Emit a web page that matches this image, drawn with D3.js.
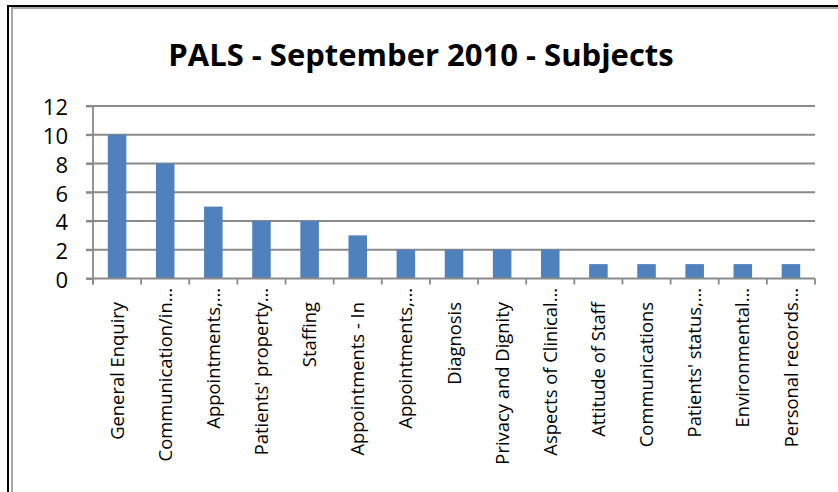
<!DOCTYPE html>
<html lang="en">
<head>
    <meta charset="UTF-8">
    <title>PALS - September 2010 - Subjects</title>
    <style>
        body {
            margin: 0;
            background: #fff;
        }

        svg {
            display: block;
            font-family: "Open Sans", sans-serif;
        }

        .grid line {
            stroke: #8a8a8a;
            stroke-width: 1.8px;
        }

        .axis path,
        .axis line {
            stroke: #8a8a8a;
            stroke-width: 1.8px;
            fill: none;
        }

        .bar {
            fill: #4f81bd;
        }
    </style>
</head>
<body>
    <div id="chart"></div>
    <script src="https://d3js.org/d3.v7.min.js"></script>
    <script>
        const categories = [
            "General Enquiry",
            "Communication/in…",
            "Appointments,…",
            "Patients' property…",
            "Staffing",
            "Appointments - In",
            "Appointments,…",
            "Diagnosis",
            "Privacy and Dignity",
            "Aspects of Clinical…",
            "Attitude of Staff",
            "Communications",
            "Patients' status,…",
            "Environmental…",
            "Personal records…"
        ];
        const counts = [10, 8, 5, 4, 4, 3, 2, 2, 2, 2, 1, 1, 1, 1, 1];
        const yTicks = [0, 2, 4, 6, 8, 10, 12];
        const title = "PALS - September 2010 - Subjects";

        const width = 838, height = 492;
        const plot = { left: 93, right: 815, top: 106, bottom: 278.5 };

        const svg = d3.select("#chart").append("svg")
            .attr("width", width)
            .attr("height", height);

        svg.append("rect")
            .attr("width", width)
            .attr("height", height)
            .attr("fill", "#fff");

        // frame: black outer edge and gray inner edge (top and left only, rest is cropped)
        svg.append("path")
            .attr("d", "M12," + height + "V8H" + width)
            .attr("fill", "none")
            .attr("stroke", "#a6a6a6")
            .attr("stroke-width", 2);
        svg.append("path")
            .attr("d", "M8," + height + "V6H" + width)
            .attr("fill", "none")
            .attr("stroke", "#000")
            .attr("stroke-width", 2);

        // title
        svg.append("text")
            .attr("x", 421)
            .attr("y", 66)
            .attr("text-anchor", "middle")
            .style("font-size", "31px")
            .style("font-weight", "bold")
            .text(title);

        // scales (index based, two categories share the same label)
        const x = d3.scaleBand()
            .domain(d3.range(categories.length))
            .range([plot.left, plot.right])
            .paddingInner(0.615)
            .paddingOuter(0.3075);

        const y = d3.scaleLinear()
            .domain([0, 12])
            .range([plot.bottom, plot.top]);

        // horizontal gridlines
        svg.append("g")
            .attr("class", "grid")
            .selectAll("line")
            .data(yTicks.slice(1))
            .enter().append("line")
            .attr("x1", plot.left - 7)
            .attr("x2", plot.right)
            .attr("y1", d => y(d))
            .attr("y2", d => y(d));

        // bars
        svg.selectAll(".bar")
            .data(counts)
            .enter().append("rect")
            .attr("class", "bar")
            .attr("x", (d, i) => x(i))
            .attr("width", x.bandwidth())
            .attr("y", d => y(d))
            .attr("height", d => y(0) - y(d));

        // y axis
        const yAxis = svg.append("g")
            .attr("class", "axis")
            .attr("transform", "translate(" + plot.left + ",0)")
            .call(d3.axisLeft(y).tickValues(yTicks).tickSize(7).tickSizeOuter(0).tickPadding(18));
        yAxis.select(".domain").attr("d", "M0," + plot.top + "V" + (plot.bottom + 6));
        yAxis.selectAll("text")
            .attr("fill", "#000")
            .attr("dy", "0.4em")
            .style("font-size", "22px")
            .style("font-family", "\"Open Sans\", sans-serif");

        // x axis: line plus ticks on category boundaries
        const xAxis = svg.append("g").attr("class", "axis");
        xAxis.append("line")
            .attr("x1", plot.left - 7)
            .attr("x2", plot.right)
            .attr("y1", plot.bottom)
            .attr("y2", plot.bottom);
        xAxis.selectAll(".tick")
            .data(d3.range(categories.length + 1))
            .enter().append("line")
            .attr("x1", i => plot.left + i * x.step())
            .attr("x2", i => plot.left + i * x.step())
            .attr("y1", plot.bottom)
            .attr("y2", plot.bottom + 6);

        // rotated category labels
        svg.append("g")
            .selectAll("text")
            .data(categories)
            .enter().append("text")
            .attr("transform", (d, i) => {
                const top = d.endsWith("…") ? 288 : 302;
                return "translate(" + (x(i) + x.bandwidth() / 2) + "," + top + ") rotate(-90)";
            })
            .attr("dy", "0.36em")
            .attr("text-anchor", "end")
            .style("font-size", "18.4px")
            .text(d => d);
    </script>
</body>
</html>
